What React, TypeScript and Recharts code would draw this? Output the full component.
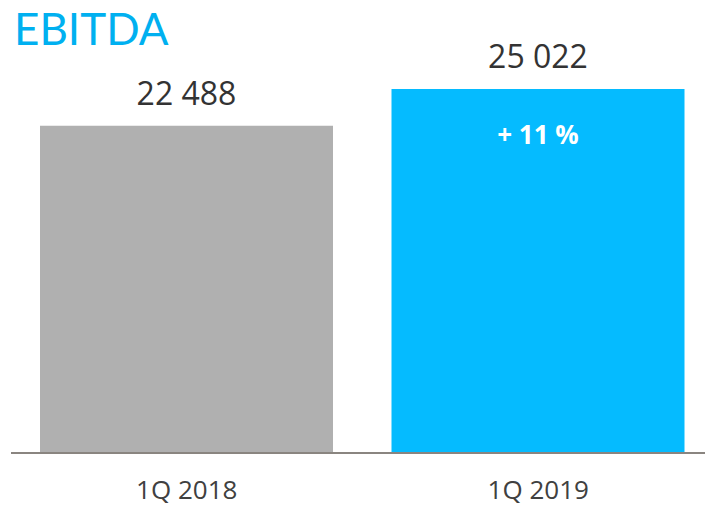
import React from "react";
import { BarChart, Bar, XAxis, YAxis, Cell, LabelList } from "recharts";

const categories = ["1Q 2018", "1Q 2019"];
const ebitda = [22488, 25022];
const growth = ["", "+ 11 %"];
const colors = ["#b0b0b0", "#05bbff"];

const data = categories.map((c, i) => ({ name: c, value: ebitda[i], growth: growth[i] }));

const fmt = (v: number) => String(v).replace(/\B(?=(\d{3})+(?!\d))/g, " ");

const GrowthLabel = (props: any) => {
  const { x, y, width, value } = props;
  if (!value) return null;
  return (
    <text x={x + width / 2} y={y + 55} textAnchor="middle" fill="#ffffff"
      fontSize={26} fontWeight={700} fontFamily="'Open Sans', sans-serif">
      {value}
    </text>
  );
};

export default function App() {
  return (
    <div style={{ position: "absolute", left: 0, top: 0, width: 705, height: 507, overflow: "hidden", background: "#fff" }}>
      <BarChart width={714} height={507} data={data}
        margin={{ top: 89, right: 0, left: 11, bottom: 14 }} barSize={293}>
        <YAxis hide domain={[0, "dataMax"]} />
        <XAxis dataKey="name" height={40} tickLine={false}
          axisLine={{ stroke: "#8a8580", strokeWidth: 2 }}
          tick={{ fill: "#404040", fontSize: 26, fontFamily: "'Open Sans', sans-serif" }}
          tickMargin={22} />
        <Bar dataKey="value" isAnimationActive={false}>
          {data.map((d, i) => <Cell key={d.name} fill={colors[i]} />)}
          <LabelList dataKey="value" position="top" offset={21} formatter={(v: any) => fmt(Number(v))}
            style={{ fill: "#333333", fontSize: 32, fontFamily: "'Open Sans', sans-serif" }} />
          <LabelList dataKey="growth" content={GrowthLabel} />
        </Bar>
      </BarChart>
      <svg width={705} height={60} style={{ position: "absolute", left: 0, top: 0 }}>
        <text x={14} y={45} fill="#00b0f0" fontSize={44}
          fontFamily="Lato, 'Open Sans', sans-serif">EBITDA</text>
      </svg>
    </div>
  );
}
